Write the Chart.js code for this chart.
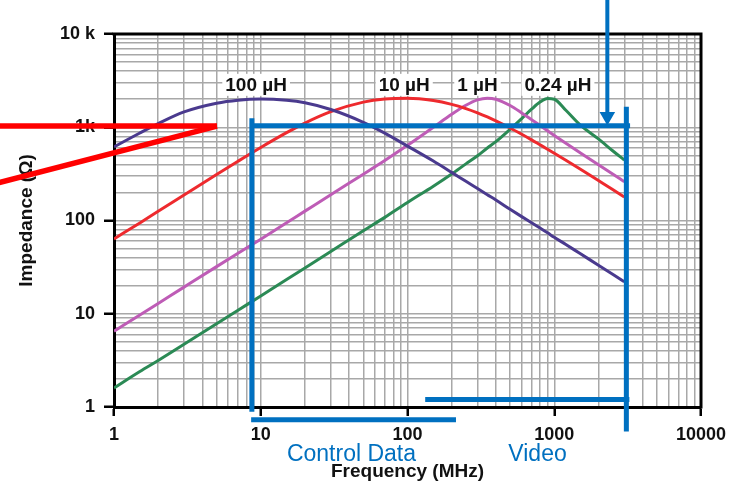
<!DOCTYPE html>
<html><head><meta charset="utf-8">
<script src="https://cdn.jsdelivr.net/npm/chart.js@4/dist/chart.umd.min.js"></script>
<style>html,body{margin:0;padding:0;background:#fff;}</style>
</head><body>
<canvas id="c" width="730" height="484"></canvas>
<script>
// ---- data ----
const freqMHz = [1, 1.5, 2, 3, 5, 7, 10, 15, 20, 30, 50, 70, 100, 150, 200, 250, 300, 350, 400, 500, 600, 700, 800, 900, 1000, 1200, 1500, 2000, 2500, 3000];
const z100uH = [615, 868, 1094, 1460, 1810, 1950, 2005, 1945, 1828, 1550, 1130, 865, 628, 434, 328, 263, 220, 189, 166, 132, 110, 94.6, 82.9, 73.7, 66, 55.3, 44.2, 33.2, 26.5, 22];
const z10uH = [63.5, 94.2, 125.5, 187.5, 311, 432, 607, 875, 1109, 1469, 1861, 2010, 2047, 1934, 1761, 1586, 1427, 1289, 1170, 981, 840, 733, 648, 581, 526, 442, 356, 268, 215, 179];
const z1uH = [6.5, 9.7, 12.9, 19.3, 32, 44.5, 63, 94.5, 126, 189, 314, 440, 640, 1000, 1375, 1720, 1964, 2049, 1996, 1710, 1426, 1207, 1042, 916, 817, 672, 532, 395, 315, 261];
const z024uH = [1.6, 2.4, 3.15, 4.7, 7.8, 10.9, 15.5, 23.3, 31, 46.5, 77.5, 108, 156, 233, 315, 405, 495, 600, 700, 950, 1240, 1560, 1860, 2030, 2000, 1520, 1060, 750, 560, 445];
const seriesNames = ['100 µH', '10 µH', '1 µH', '0.24 µH'];
const xTickValues = [1, 10, 100, 1000, 10000];
const xTickLabels = ['1', '10', '100', '1000', '10000'];
const yTickValues = [1, 10, 100, 1000, 10000];
const yTickLabels = ['1', '10', '100', '1k', '10 k'];
// annotation bands (MHz / ohm)
const controlBand = [8.6, 214];     // Control Data
const videoBand = [132, 3250];      // Video
const bandEdges = [8.7, 3100];
const arrowFreq = 2300;
const redMarkFreq = 5.03;
const bandLabels = ['Control Data', 'Video'];
const bandLabelFreq = [41.5, 769];
const seriesLabelFreq = [9.3, 95, 300, 1060];

// ---- styling ----
const FONT = "'Liberation Sans', Arial, sans-serif";
const BLUE = '#0070c0';
const RED = '#ff0000';
const colors = ['#4a3a8e', '#ee2a2e', '#be5cb6', '#2b8a55'];

const gridValues = [];
for (let e = 0; e < 4; e++) for (let m = 1; m < 10; m++) gridValues.push(m * Math.pow(10, e));
gridValues.push(10000);
const isDecade = v => Math.abs(Math.log10(v) - Math.round(Math.log10(v))) < 1e-9;

const pts = ys => freqMHz.map((f, i) => ({x: f, y: ys[i]}));
const curve = (i, ys) => ({
  label: seriesNames[i], data: pts(ys), borderColor: colors[i], borderWidth: 3,
  pointRadius: 0, fill: false, cubicInterpolationMode: 'monotone', order: 2
});
const ann = (data, color, w) => ({
  data, borderColor: color, backgroundColor: color, borderWidth: w, pointRadius: 0,
  tension: 0, fill: false, clip: false, order: 1, borderCapStyle: 'butt'
});

const datasets = [
  curve(0, z100uH), curve(1, z10uH), curve(2, z1uH), curve(3, z024uH),
  // red marks reaching off the left edge
  ann([{x: 0.15, y: 1030}, {x: redMarkFreq, y: 1030}], RED, 5.5),
  ann([{x: redMarkFreq, y: 1030}, {x: 0.15, y: 245}], RED, 5.5),
  // blue box
  ann([{x: bandEdges[0], y: 1250}, {x: bandEdges[0], y: 0.89}], BLUE, 5),
  ann([{x: bandEdges[1], y: 1660}, {x: bandEdges[1], y: 0.545}], BLUE, 5),
  ann([{x: bandEdges[0] * 0.97, y: 1035}, {x: bandEdges[1] * 1.06, y: 1035}], BLUE, 5),
  ann([{x: controlBand[0], y: 0.729}, {x: controlBand[1], y: 0.729}], BLUE, 5),
  ann([{x: videoBand[0], y: 1.2}, {x: videoBand[1], y: 1.2}], BLUE, 5),
  // arrow
  ann([{x: arrowFreq, y: 26000}, {x: arrowFreq, y: 1460}], BLUE, 4),
  {data: [{x: arrowFreq, y: 1300}], showLine: false, pointStyle: 'triangle', rotation: 180,
   pointRadius: 9, backgroundColor: BLUE, borderColor: BLUE, borderWidth: 0, clip: false, order: 1}
];

const frame = {
  id: 'frame',
  beforeDatasetsDraw(chart) {
    const {ctx, chartArea: a} = chart;
    ctx.save();
    ctx.strokeStyle = '#000'; ctx.lineWidth = 3;
    ctx.beginPath(); ctx.moveTo(a.left - 1.5, a.top); ctx.lineTo(a.right, a.top); ctx.lineTo(a.right, a.bottom + 1.5); ctx.stroke();
    ctx.restore();
  }
};
const texts = {
  id: 'texts',
  afterDraw(chart) {
    const {ctx} = chart; const xs = chart.scales.x, ys = chart.scales.y;
    ctx.save();
    ctx.font = `bold 19px ${FONT}`; ctx.textAlign = 'center'; ctx.textBaseline = 'middle';
    seriesNames.forEach((t, i) => {
      const x = xs.getPixelForValue(seriesLabelFreq[i]), y = ys.getPixelForValue(2850);
      const w = ctx.measureText(t).width;
      ctx.fillStyle = '#fff'; ctx.fillRect(x - w / 2 - 3, y - 11, w + 6, 22);
      ctx.fillStyle = '#111'; ctx.fillText(t, x, y + 1);
    });
    ctx.font = `23px ${FONT}`; ctx.fillStyle = BLUE; ctx.textBaseline = 'alphabetic';
    bandLabels.forEach((t, i) => {
      ctx.fillText(t, xs.getPixelForValue(bandLabelFreq[i]), ys.getPixelForValue(0.265));
    });
    ctx.restore();
  }
};

const axisCommon = (labelsVals, labels) => ({
  type: 'logarithmic', min: 1, max: 10000,
  afterBuildTicks: s => { s.ticks = gridValues.map(v => ({value: v, major: isDecade(v)})); },
  grid: {
    color: '#a8a8a8', lineWidth: 1.5,
    tickColor: c => (c.tick && isDecade(c.tick.value)) ? '#000' : 'rgba(0,0,0,0)',
    tickWidth: 2.5
  },
  border: {display: true, color: '#000', width: 3},
  ticks: {
    autoSkip: false, maxRotation: 0, minRotation: 0, color: '#111',
    font: {family: FONT, size: 18, weight: 'bold'},
    callback: v => { const i = labelsVals.findIndex(t => Math.abs(t - v) < 1e-6); return i >= 0 ? labels[i] : ''; }
  }
});

const clearPad = s => { s.paddingLeft = 0; s.paddingRight = 0; s.paddingTop = 0; s.paddingBottom = 0; };

const xAxis = axisCommon(xTickValues, xTickLabels);
xAxis.position = 'bottom';
xAxis.afterFit = s => { s.height = 77; clearPad(s); };
xAxis.grid.tickLength = 9;
xAxis.ticks.padding = 8;
xAxis.title = {display: true, text: 'Frequency (MHz)', color: '#111', font: {family: FONT, size: 19, weight: 'bold'}, padding: {top: 0, bottom: 1}};

const yAxis = axisCommon(yTickValues, yTickLabels);
yAxis.position = 'left';
yAxis.afterFit = s => { s.width = 114; clearPad(s); };
yAxis.grid.tickLength = 10;
yAxis.ticks.padding = 9;
yAxis.title = {display: true, text: 'Impedance (Ω)', color: '#111', font: {family: FONT, size: 19, weight: 'bold'}, padding: {top: 15, bottom: 0}};

new Chart(document.getElementById('c'), {
  type: 'line',
  data: {datasets},
  options: {
    responsive: false, animation: false, devicePixelRatio: 1, events: [],
    layout: {padding: {left: 0, top: 34, right: 29, bottom: 0}},
    plugins: {legend: {display: false}, tooltip: {enabled: false}},
    scales: {x: xAxis, y: yAxis}
  },
  plugins: [frame, texts]
});
</script>
</body></html>
